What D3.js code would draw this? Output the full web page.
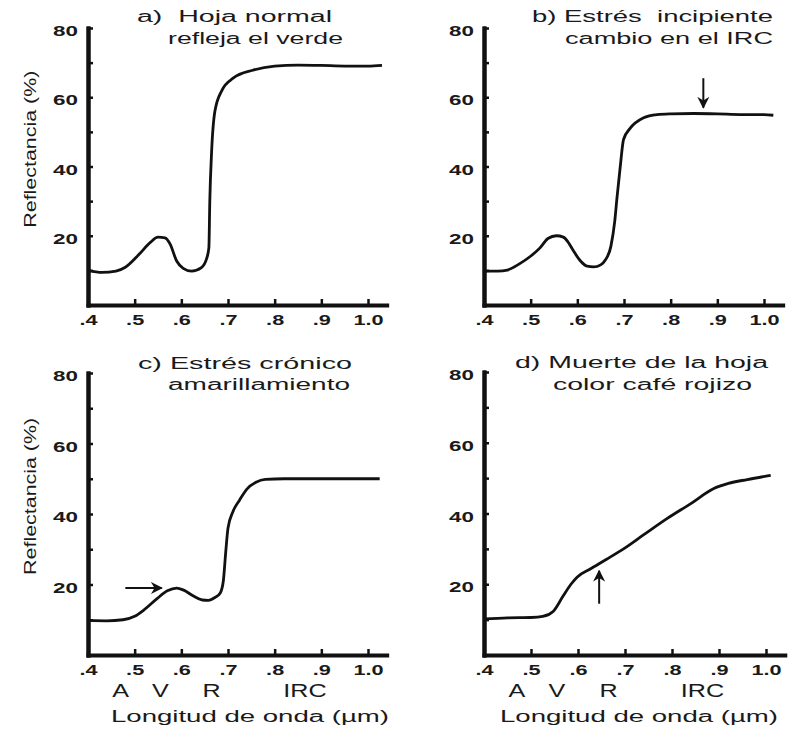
<!DOCTYPE html>
<html>
<head>
<meta charset="utf-8">
<script src="https://cdn.jsdelivr.net/npm/d3@7"></script>
<style>
  body { margin: 0; background: #fff; }
  text { font-family: "Liberation Sans", Arial, sans-serif; fill: #1a1a1a; white-space: pre; }
</style>
</head>
<body>
<svg id="chart" width="789" height="735"></svg>
<script>
// axis ticks
const xTicks = [0.4, 0.5, 0.6, 0.7, 0.8, 0.9, 1.0];
const xTickLabels = [".4", ".5", ".6", ".7", ".8", ".9", "1.0"];
const yMajor = [20, 40, 60, 80];
const yMajorLabels = ["20", "40", "60", "80"];
const yMinor = [10, 30, 50, 70];
const bandNames = ["A", "V", "R", "IRC"];
const bandPos = [0.47, 0.555, 0.665, 0.865];

// reflectance curves, [wavelength um, reflectance %]
const normalLeaf = [[0.40, 10], [0.43, 9.4], [0.46, 9.8], [0.48, 10.9], [0.51, 14.7], [0.533, 18],
  [0.55, 19.6], [0.565, 19.4], [0.576, 17.6], [0.59, 12.7], [0.604, 10.6], [0.622, 9.8], [0.643, 10.8],
  [0.654, 13.3], [0.659, 16.5], [0.661, 30], [0.665, 44.6], [0.672, 56], [0.687, 62], [0.711, 65.5],
  [0.753, 67.8], [0.80, 69], [0.85, 69.3], [0.90, 69.2], [0.95, 69], [1.0, 69], [1.03, 69.2]];
const earlyStress = [[0.40, 9.8], [0.43, 9.8], [0.45, 10.1], [0.475, 11.8], [0.499, 14], [0.52, 16.5],
  [0.537, 19.2], [0.555, 20], [0.57, 19.6], [0.58, 18.2], [0.59, 16], [0.605, 13], [0.621, 11.2],
  [0.635, 11], [0.65, 11.6], [0.66, 13], [0.672, 17], [0.68, 24], [0.685, 31], [0.692, 40], [0.699, 47.8],
  [0.713, 51], [0.741, 54], [0.771, 55], [0.80, 55.2], [0.85, 55.3], [0.90, 55.2], [0.95, 55], [1.0, 55], [1.02, 54.8]];
const chronicStress = [[0.40, 9.8], [0.44, 9.7], [0.475, 10], [0.50, 11], [0.52, 12.8], [0.548, 16],
  [0.57, 18.2], [0.59, 19], [0.605, 18.4], [0.625, 16.8], [0.645, 15.6], [0.658, 15.5], [0.672, 16.3],
  [0.683, 17.5], [0.69, 21], [0.695, 29], [0.70, 36], [0.711, 40.8], [0.725, 44], [0.74, 47], [0.76, 49],
  [0.78, 49.8], [0.82, 50], [0.90, 50], [0.95, 50], [1.0, 50], [1.025, 50]];
const deadLeaf = [[0.40, 10.2], [0.45, 10.5], [0.50, 10.6], [0.525, 10.9], [0.547, 12.3], [0.568, 16.6],
  [0.585, 20], [0.598, 22], [0.626, 24.3], [0.66, 27], [0.697, 30], [0.74, 34], [0.79, 38.6],
  [0.84, 42.8], [0.888, 47], [0.92, 48.5], [0.96, 49.6], [1.01, 50.8]];

// arrows, [x1, y1, x2, y2] in data units (head at x2,y2)
const arrowB = [0.87, 65.5, 0.87, 57];
const arrowC = [0.48, 19, 0.558, 19];
const arrowD = [0.645, 14.5, 0.645, 23.8];

const titles = {
  a: ["a)  Hoja normal", "refleja el verde"],
  b: ["b) Estrés  incipiente", "cambio en el IRC"],
  c: ["c) Estrés crónico", "amarillamiento"],
  d: ["d) Muerte de la hoja", "color café rojizo"]
};

const panels = [
  { data: normalLeaf, title: titles.a, arrow: null, left: 88, right: 368, top: 28, bottom: 305,
    titlePos: [[137, 22, 195], [168, 44, 175]], yLabel: true, bands: false },
  { data: earlyStress, title: titles.b, arrow: arrowB, left: 484, right: 764, top: 28, bottom: 305,
    titlePos: [[532, 22, 241], [565, 44, 208]], yLabel: false, bands: false },
  { data: chronicStress, title: titles.c, arrow: arrowC, left: 88, right: 368, top: 373, bottom: 655,
    titlePos: [[138, 369, 214], [168, 390, 182]], yLabel: true, bands: true, xLabel: [111, 278] },
  { data: deadLeaf, title: titles.d, arrow: arrowD, left: 484, right: 766, top: 372, bottom: 655,
    titlePos: [[515, 368, 253], [553, 390, 199]], yLabel: false, bands: true, xLabel: [500, 278] }
];

let svg = d3.select("#chart");
const ink = "#111";
const xEnd = 1.04;

svg.append("defs").append("marker")
  .attr("id", "head")
  .attr("viewBox", "0 0 10 10")
  .attr("refX", 9).attr("refY", 5)
  .attr("markerWidth", 6).attr("markerHeight", 6)
  .attr("orient", "auto")
  .append("path")
  .attr("d", "M0,0L10,5L0,10L3,5z")
  .attr("fill", ink);

panels.forEach(drawPanel);

function drawPanel(p) {
  let g = svg.append("g");
  let x = d3.scaleLinear().domain([0.4, xEnd])
    .range([p.left, p.left + (p.right - p.left) * (xEnd - 0.4) / 0.6]);
  let y = d3.scaleLinear().domain([0, 80]).range([p.bottom, p.top]);

  // curve
  g.append("path")
    .datum(p.data)
    .attr("fill", "none")
    .attr("stroke", ink)
    .attr("stroke-width", 2.8)
    .attr("stroke-linejoin", "round")
    .attr("d", d3.line().x(d => x(d[0])).y(d => y(d[1])).curve(d3.curveMonotoneX));

  // y axis: minor ticks, then major ticks with labels
  g.append("g")
    .attr("transform", "translate(" + p.left + ",0)")
    .call(d3.axisLeft(y).tickValues(yMinor).tickSize(-5).tickSizeOuter(0).tickFormat(""))
    .call(styleAxis);
  g.append("g")
    .attr("transform", "translate(" + p.left + ",0)")
    .call(d3.axisLeft(y).tickValues(yMajor).tickSize(-5).tickSizeOuter(0)
      .tickFormat((d, i) => yMajorLabels[i]))
    .call(styleAxis)
    .selectAll("text")
    .attr("x", -10 / 1.6)
    .attr("dy", "0.55em")
    .attr("transform", "scale(1.6,1)");

  // x axis
  g.append("g")
    .attr("transform", "translate(0," + p.bottom + ")")
    .call(d3.axisBottom(x).tickValues(xTicks).tickSize(-6).tickSizeOuter(0)
      .tickFormat((d, i) => xTickLabels[i]))
    .call(styleAxis)
    .selectAll("text")
    .attr("y", 10)
    .attr("transform", "scale(1.55,1)");

  // title
  p.title.forEach((t, i) => {
    g.append("text")
      .attr("x", p.titlePos[i][0])
      .attr("y", p.titlePos[i][1])
      .attr("font-size", "16px")
      .attr("textLength", p.titlePos[i][2])
      .attr("lengthAdjust", "spacingAndGlyphs")
      .text(t);
  });

  if (p.yLabel) {
    g.append("text")
      .attr("transform", "translate(36," + y(45) + ") rotate(-90)")
      .attr("text-anchor", "middle")
      .attr("font-size", "17px")
      .attr("textLength", 157)
      .attr("lengthAdjust", "spacingAndGlyphs")
      .text("Reflectancia (%)");
  }

  if (p.bands) {
    bandNames.forEach((b, i) => {
      g.append("text")
        .attr("transform", "translate(" + x(bandPos[i]) + "," + (p.bottom + 42) + ") scale(1.4,1)")
        .attr("text-anchor", "middle")
        .attr("font-size", "18px")
        .text(b);
    });
    g.append("text")
      .attr("x", p.xLabel[0])
      .attr("y", p.bottom + 67)
      .attr("font-size", "16px")
      .attr("textLength", p.xLabel[1])
      .attr("lengthAdjust", "spacingAndGlyphs")
      .text("Longitud de onda (µm)");
  }

  if (p.arrow) {
    g.append("line")
      .attr("x1", x(p.arrow[0])).attr("y1", y(p.arrow[1]))
      .attr("x2", x(p.arrow[2])).attr("y2", y(p.arrow[3]))
      .attr("stroke", ink)
      .attr("stroke-width", 2)
      .attr("marker-end", "url(#head)");
  }
}

function styleAxis(sel) {
  sel.select(".domain")
    .attr("stroke", ink)
    .attr("stroke-width", 4)
    .attr("stroke-linecap", "square");
  sel.selectAll(".tick line")
    .attr("stroke", ink)
    .attr("stroke-width", 2.5);
  sel.selectAll(".tick text")
    .attr("fill", "#1a1a1a")
    .attr("font-family", "'Liberation Sans', Arial, sans-serif")
    .attr("font-size", 14)
    .attr("font-weight", "bold");
}
</script>
</body>
</html>
